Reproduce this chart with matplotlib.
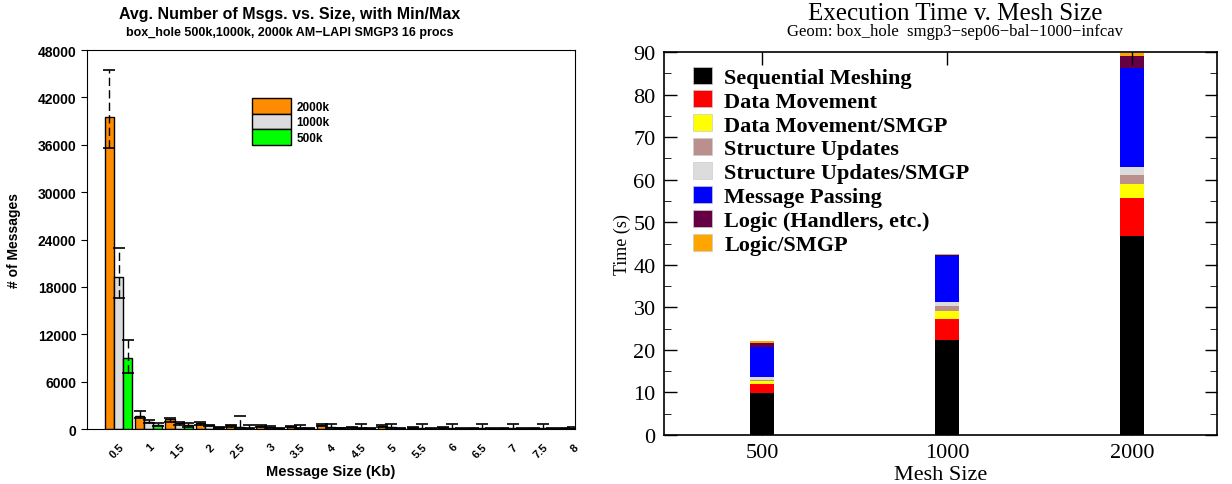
import numpy as np
import matplotlib
matplotlib.use('Agg')
import matplotlib.pyplot as plt
from matplotlib.patches import Patch

# --- date grafic stanga: mesaje vs dimensiune ---
sizes = [0.5, 1, 1.5, 2, 2.5, 3, 3.5, 4, 4.5, 5, 5.5, 6, 6.5, 7, 7.5, 8]
size_labels = ['0.5', '1', '1.5', '2', '2.5', '3', '3.5', '4', '4.5', '5',
               '5.5', '6', '6.5', '7', '7.5', '8']

avg_2000k = [39500, 1700, 1250, 800, 450, 400, 300, 550, 250, 400, 150, 150, 100, 100, 100, 100]
min_2000k = [35600, 1350, 850, 500, 300, 250, 200, 350, 150, 250, 100, 100, 50, 50, 50, 50]
max_2000k = [45500, 2300, 1350, 900, 500, 450, 350, 600, 300, 450, 200, 200, 150, 150, 150, 150]

avg_1000k = [19200, 950, 750, 450, 250, 200, 150, 250, 150, 200, 100, 100, 80, 80, 80, 80]
min_1000k = [16600, 800, 550, 350, 150, 150, 100, 150, 100, 150, 50, 50, 50, 50, 50, 50]
max_1000k = [22900, 1100, 850, 500, 1600, 380, 500, 600, 600, 600, 600, 600, 600, 600, 600, 200]

avg_500k = [9000, 550, 450, 200, 150, 100, 80, 120, 80, 80, 60, 60, 50, 50, 50, 50]
min_500k = [7100, 400, 300, 150, 100, 60, 50, 80, 50, 50, 40, 40, 30, 30, 30, 30]
max_500k = [11300, 700, 750, 250, 500, 150, 100, 150, 100, 100, 80, 80, 70, 70, 70, 70]

# --- date grafic dreapta: timp de executie ---
mesh_sizes = ['500', '1000', '2000']
sequential = [9.9, 22.4, 46.8]
data_move = [2.1, 4.8, 9.0]
data_move_smgp = [0.6, 1.9, 3.2]
struct_upd = [0.4, 1.3, 2.1]
struct_upd_smgp = [0.6, 0.8, 1.8]
msg_passing = [7.1, 11.1, 23.3]
logic = [0.9, 0.1, 2.9]
logic_smgp = [0.4, 0.05, 0.6]

fig = plt.figure(figsize=(12.32, 4.85), dpi=100)

# ================= stanga =================
ax1 = fig.add_axes([0.0706, 0.1134, 0.3961, 0.7814])
x = np.array(sizes)
w = 0.15
series = [
    (avg_2000k, min_2000k, max_2000k, '#ff8c00', '2000k', -w),
    (avg_1000k, min_1000k, max_1000k, '#dcdcdc', '1000k', 0.0),
    (avg_500k, min_500k, max_500k, '#00ff00', '500k', w),
]
for avg, mn, mx, col, lab, off in series:
    avg = np.array(avg)
    mn = np.array(mn)
    mx = np.array(mx)
    ax1.bar(x + off, avg, width=w, color=col, edgecolor='black', linewidth=1.0, label=lab, zorder=2)
    eb = ax1.errorbar(x + off, avg, yerr=[avg - mn, mx - avg], fmt='none', ecolor='black',
                      elinewidth=1.0, capsize=4, capthick=1.2, zorder=3)
    eb[2][0].set_linestyle((0, (6, 3)))

ax1.set_xlim(-0.02, 8.03)
ax1.set_ylim(0, 48000)
ax1.set_yticks(np.arange(0, 48001, 6000))
ax1.set_xticks(sizes)
ax1.set_xticklabels(size_labels, rotation=45, ha='right', rotation_mode='anchor')
for lbl in ax1.get_xticklabels():
    lbl.set_fontsize(8)
    lbl.set_fontweight('bold')
    lbl.set_family('Liberation Sans')
for lbl in ax1.get_yticklabels():
    lbl.set_fontsize(10)
    lbl.set_fontweight('bold')
    lbl.set_family('Liberation Sans')
ax1.tick_params(axis='x', length=0, pad=9)
ax1.tick_params(axis='y', length=4, direction='out')
ax1.set_xlabel('Message Size (Kb)', fontsize=10.5, fontweight='bold', family='Liberation Sans', labelpad=3)
ax1.set_ylabel('# of Messages', fontsize=10, fontweight='bold', family='Liberation Sans', labelpad=12)
fig.text(0.2354, 0.971, 'Avg. Number of Msgs. vs. Size, with Min/Max', ha='center', va='center',
         fontsize=11.5, fontweight='bold', family='Liberation Sans')
fig.text(0.2354, 0.932, 'box_hole 500k,1000k, 2000k AM\u2212LAPI SMGP3 16 procs', ha='center', va='center',
         fontsize=9, fontweight='bold', family='Liberation Sans')
ax1.legend(loc='upper left', bbox_to_anchor=(0.338, 0.873), frameon=False,
           handlelength=3.3, handleheight=1.65, handletextpad=0.45, labelspacing=0.0,
           borderpad=0, borderaxespad=0, prop={'family': 'Liberation Sans', 'weight': 'bold', 'size': 8.5})

# ================= dreapta =================
ax2 = fig.add_axes([0.539, 0.101, 0.4488, 0.7897])
pos = np.arange(1, 4)
stack = [
    (sequential, 'black', 'Sequential Meshing'),
    (data_move, '#ff0000', 'Data Movement'),
    (data_move_smgp, '#ffff00', 'Data Movement/SMGP'),
    (struct_upd, '#bc8f8f', 'Structure Updates'),
    (struct_upd_smgp, '#dcdcdc', 'Structure Updates/SMGP'),
    (msg_passing, '#0000ff', 'Message Passing'),
    (logic, '#660044', 'Logic (Handlers, etc.)'),
    (logic_smgp, '#ffa500', 'Logic/SMGP'),
]
bottom = np.zeros(3)
handles = []
for vals, col, lab in stack:
    ax2.bar(pos, vals, width=0.13, bottom=bottom, color=col, edgecolor='none', zorder=1)
    bottom += np.array(vals)
    handles.append(Patch(facecolor=col, edgecolor='#cccccc', linewidth=0.5, label=lab))

ax2.set_xlim(0.47, 3.46)
ax2.set_ylim(0, 90)
ax2.set_xticks(pos)
ax2.set_xticklabels(mesh_sizes)
ax2.set_yticks(np.arange(0, 91, 10))
ax2.set_yticks(np.arange(0, 91, 5), minor=True)
ax2.tick_params(axis='both', which='major', direction='in', length=9, width=1,
                top=True, right=True, labelsize=16, pad=6)
ax2.tick_params(axis='y', which='minor', direction='in', length=5, right=True)
for lbl in ax2.get_xticklabels() + ax2.get_yticklabels():
    lbl.set_family('Liberation Serif')
for sp in ax2.spines.values():
    sp.set_linewidth(1.2)
ax2.set_xlabel('Mesh Size', fontsize=16, family='Liberation Serif', labelpad=2)
ax2.set_ylabel('Time (s)', fontsize=13, family='Liberation Serif', labelpad=1.5)
fig.text(0.7752, 0.972, 'Execution Time v. Mesh Size', ha='center', va='center',
         fontsize=18, family='Liberation Serif')
fig.text(0.7752, 0.935, 'Geom: box_hole  smgp3\u2212sep06\u2212bal\u22121000\u2212infcav', ha='center', va='center',
         fontsize=12, family='Liberation Serif')
ax2.legend(handles=handles, loc='upper left', bbox_to_anchor=(0.052, 0.962), frameon=False,
           handlelength=0.86, handleheight=0.8, handletextpad=0.55, labelspacing=0.12,
           borderpad=0, borderaxespad=0,
           prop={'family': 'Liberation Serif', 'weight': 'bold', 'size': 16})

fig.savefig('out.png', dpi=100)
